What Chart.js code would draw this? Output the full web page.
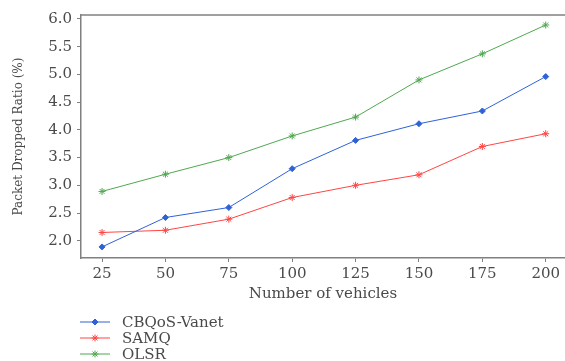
<!doctype html>
<html lang="en">
<head>
  <meta charset="utf-8">
  <title>Packet Dropped Ratio</title>
  <script src="https://cdn.jsdelivr.net/npm/chart.js@4.4.1/dist/chart.umd.min.js"></script>
  <style>
    html, body { margin: 0; padding: 0; background: #fff; }
    #wrap { width: 565px; height: 361px; }
  </style>
</head>
<body>
  <div id="wrap"><canvas id="canvas" width="565" height="361"></canvas></div>
  <script>
    var vehicles = [25, 50, 75, 100, 125, 150, 175, 200];
    var cbqosVanet = [1.89, 2.42, 2.60, 3.30, 3.81, 4.11, 4.34, 4.96];
    var samq = [2.15, 2.19, 2.39, 2.78, 3.00, 3.19, 3.70, 3.93];
    var olsr = [2.89, 3.20, 3.50, 3.89, 4.23, 4.90, 5.37, 5.89];
    var yTicks = [2.0, 2.5, 3.0, 3.5, 4.0, 4.5, 5.0, 5.5, 6.0];

    var font = "'DejaVu Serif', 'Liberation Serif', serif";
    var textColor = '#4a4a4a';
    var axisColor = '#808080';

    function pts(values) {
      return vehicles.map(function (v, i) { return { x: v, y: values[i] }; });
    }

    var series = [
      { label: 'CBQoS-Vanet', data: cbqosVanet, color: '#2f62d6', style: 'rectRot', r: 3 },
      { label: 'SAMQ', data: samq, color: '#ff4545', style: 'star', r: 3.5 },
      { label: 'OLSR', data: olsr, color: '#4fa84f', style: 'star', r: 3.5 }
    ];

    // top frame line + legend drawn under the axis
    var extras = {
      id: 'extras',
      afterDraw: function (chart) {
        var ctx = chart.ctx;
        var a = chart.chartArea;
        ctx.save();
        ctx.strokeStyle = axisColor;
        ctx.lineWidth = 1.5;
        ctx.beginPath();
        ctx.moveTo(a.left, a.top);
        ctx.lineTo(a.right, a.top);
        ctx.stroke();

        var rowY = [322, 338, 354];
        chart.data.datasets.forEach(function (ds, i) {
          var y = rowY[i];
          ctx.strokeStyle = ds.borderColor;
          ctx.fillStyle = ds.borderColor;
          ctx.lineWidth = 1;
          ctx.beginPath();
          ctx.moveTo(80, y);
          ctx.lineTo(110, y);
          ctx.stroke();
          Chart.helpers.drawPoint(ctx, {
            pointStyle: ds.pointStyle,
            radius: ds.pointRadius,
            borderWidth: 1
          }, 95, y);
          ctx.fillStyle = textColor;
          ctx.font = '15px ' + font;
          ctx.textBaseline = 'middle';
          ctx.textAlign = 'left';
          ctx.fillText(ds.label, 122, y + 1);
        });
        ctx.restore();
      }
    };

    var ctx = document.getElementById('canvas').getContext('2d');
    new Chart(ctx, {
      type: 'line',
      data: {
        datasets: series.map(function (s) {
          return {
            label: s.label,
            data: pts(s.data),
            borderColor: s.color,
            backgroundColor: s.color,
            borderWidth: 1,
            pointStyle: s.style,
            pointRadius: s.r,
            pointBorderWidth: 1,
            tension: 0
          };
        })
      },
      options: {
        responsive: false,
        animation: false,
        layout: { autoPadding: false, padding: { top: 15, right: 0, bottom: 54, left: 0 } },
        plugins: { legend: { display: false }, tooltip: { enabled: false } },
        scales: {
          x: {
            type: 'linear',
            min: 16.7,
            max: 207.6,
            afterBuildTicks: function (axis) {
              axis.ticks = vehicles.map(function (v) { return { value: v }; });
            },
            afterFit: function (axis) {
              axis.height = 49;
              axis.paddingLeft = 0;
              axis.paddingRight = 0;
            },
            grid: { drawOnChartArea: false, drawTicks: true, tickLength: 4, color: axisColor },
            border: { color: axisColor, width: 1.5 },
            ticks: { color: textColor, font: { family: font, size: 15 }, padding: 3, maxRotation: 0 },
            title: { display: true, text: 'Number of vehicles', color: textColor, font: { family: font, size: 15 }, padding: { top: 0, bottom: 4 } }
          },
          y: {
            min: 1.69,
            max: 6.07,
            afterBuildTicks: function (axis) {
              axis.ticks = yTicks.map(function (v) { return { value: v }; });
            },
            afterFit: function (axis) {
              axis.width = 81;
              axis.paddingTop = 0;
              axis.paddingBottom = 0;
            },
            grid: { drawOnChartArea: false, drawTicks: true, tickLength: 4, color: axisColor },
            border: { color: axisColor, width: 1.5 },
            ticks: {
              color: textColor,
              font: { family: font, size: 15 },
              padding: 5,
              callback: function (v) { return Number(v).toFixed(1); }
            },
            title: { display: true, text: 'Packet Dropped Ratio (%)', color: textColor, font: { family: font, size: 12 }, padding: { top: 12, bottom: 0 } }
          }
        }
      },
      plugins: [extras]
    });
  </script>
</body>
</html>
